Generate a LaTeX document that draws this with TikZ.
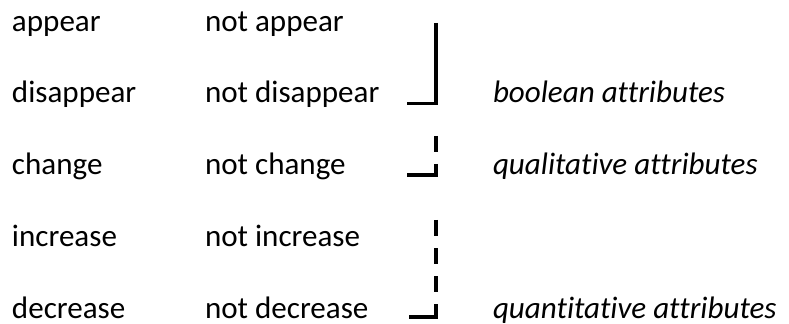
\documentclass[tikz,border=0pt]{standalone}
\usepackage{fontspec}
\setmainfont[Ligatures=CommonOff]{Carlito}
\begin{document}
\begin{tikzpicture}[x=0.75pt,y=-0.75pt,
  lbl/.style={anchor=base west,inner sep=0pt,outer sep=0pt,font=\fontsize{23.3}{27}\selectfont},
  attr/.style={lbl,font=\fontsize{23.3}{27}\selectfont\itshape},
  brk/.style={line width=2.5pt,line cap=butt,line join=miter}]
\useasboundingbox (0,0) rectangle (789,324);
% left column
\node[lbl] (a1) at (12,32) {appear};
\node[lbl] (a2) at (12,103) {disappear};
\node[lbl] (a3) at (12,175) {change};
\node[lbl] (a4) at (12,246) {increase};
\node[lbl] (a5) at (12,318) {decrease};
% middle column
\node[lbl] (b1) at (205,32) {not appear};
\node[lbl] (b2) at (205,103) {not disappear};
\node[lbl] (b3) at (205,175) {not change};
\node[lbl] (b4) at (205,246) {not increase};
\node[lbl] (b5) at (205,318) {not decrease};
% right column
\node[attr] (c2) at (493,103) {boolean attributes};
\node[attr] (c3) at (493,175) {qualitative attributes};
\node[attr] (c5) at (493,318) {quantitative attributes};
% bracket 1 (solid)
\coordinate (t1) at (436,23);
\coordinate (k1) at (436,103.3);
\coordinate (e1) at (407,103.3);
\draw[brk] (t1) -- (k1) -- (e1);
% bracket 2 (dashed)
\draw[brk] (436,136) -- (436,152);
\coordinate (k2) at (436,175);
\coordinate (e2) at (407,175);
\draw[brk] (436,164) -- (k2) -- (e2);
% bracket 3 (dashed)
\draw[brk] (436,220) -- (436,236);
\draw[brk] (436,248) -- (436,264);
\draw[brk] (436,276) -- (436,292);
\coordinate (k3) at (436,317);
\coordinate (e3) at (409,317);
\draw[brk] (436,304) -- (k3) -- (e3);
\end{tikzpicture}
\end{document}
